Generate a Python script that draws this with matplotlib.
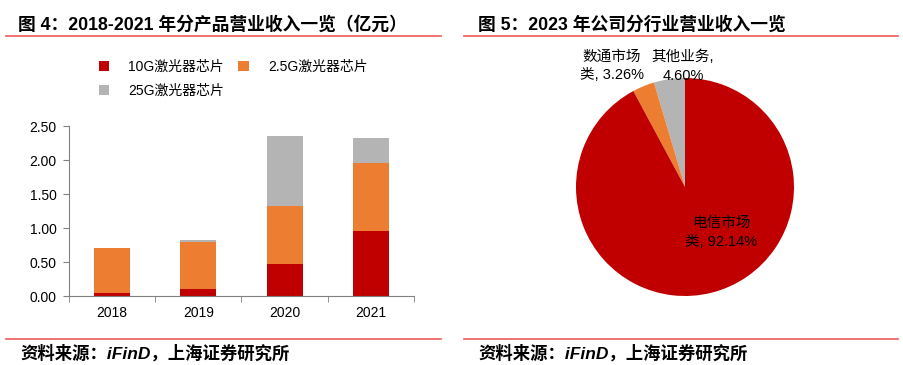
import matplotlib
matplotlib.use("Agg")
import matplotlib.pyplot as plt
import numpy as np

plt.rcParams["font.family"] = ["Liberation Sans", "Noto Sans CJK SC", "DejaVu Sans"]

years = ["2018", "2019", "2020", "2021"]
chip_10g = [0.04, 0.10, 0.47, 0.95]
chip_2_5g = [0.67, 0.69, 0.85, 1.00]
chip_25g = [0.00, 0.03, 1.03, 0.38]
series_names = ["10G激光器芯片", "2.5G激光器芯片", "25G激光器芯片"]
y_ticks = [0.0, 0.5, 1.0, 1.5, 2.0, 2.5]

pie_names = ["其他业务", "数通市场类", "电信市场类"]
pie_shares = [4.60, 3.26, 92.14]

RED = "#C00000"
ORANGE = "#ED7D31"
GRAY = "#B4B4B4"
LINE = "#F05A5A"

W, H = 904, 365
fig = plt.figure(figsize=(W / 100, H / 100), dpi=100)


def px(x0, y0, x1, y1):
    # pixel box (top-left origin) -> figure fraction rect
    return [x0 / W, 1 - y1 / H, (x1 - x0) / W, (y1 - y0) / H]


# titles, rules and sources
fig.text(18 / W, 1 - 25 / H, "图 4：2018-2021 年分产品营业收入一览（亿元）",
         fontsize=12.8, fontweight="bold", va="center")
fig.text(478 / W, 1 - 25 / H, "图 5：2023 年公司分行业营业收入一览",
         fontsize=12.8, fontweight="bold", va="center")
for x0, x1 in [(6, 441), (464, 898)]:
    fig.add_artist(plt.Line2D([x0 / W, x1 / W], [1 - 36 / H] * 2, color=LINE, lw=1.2))
    fig.add_artist(plt.Line2D([x0 / W, x1 / W], [1 - 339 / H] * 2, color=LINE, lw=1.2))
for x0 in (20, 478):
    fig.text(x0 / W, 1 - 353 / H, "资料来源：iFinD，上海证券研究所", fontsize=12.5,
             fontweight="bold", fontstyle="italic", va="center")

# stacked bars
ax = fig.add_axes(px(69, 126, 414, 296))
x = np.arange(len(years))
b1 = ax.bar(x, chip_10g, width=0.42, color=RED, label=series_names[0])
b2 = ax.bar(x, chip_2_5g, width=0.42, bottom=chip_10g, color=ORANGE, label=series_names[1])
b3 = ax.bar(x, chip_25g, width=0.42, bottom=np.add(chip_10g, chip_2_5g), color=GRAY,
            label=series_names[2])
ax.set_xlim(-0.5, len(years) - 0.5)
ax.set_ylim(0, 2.5)
ax.set_yticks(y_ticks)
ax.set_yticklabels([f"{v:.2f}" for v in y_ticks], fontsize=10)
ax.set_xticks(x)
ax.set_xticklabels(years, fontsize=10)
ax.set_xticks(np.arange(len(years) + 1) - 0.5, minor=True)
ax.tick_params(axis="x", which="major", length=0, pad=7)
ax.tick_params(axis="x", which="minor", length=4, direction="out", color="#808080")
ax.tick_params(axis="y", length=4, direction="out", color="#808080", pad=5)
for s in ["top", "right"]:
    ax.spines[s].set_visible(False)
for s in ["left", "bottom"]:
    ax.spines[s].set_color("#808080")

# column-wise fill -> row order: 10G, 2.5G / 25G
fig.legend(handles=[b1, b3, b2], loc="upper left", bbox_to_anchor=(93 / W, 1 - 54 / H),
           ncol=2, frameon=False, fontsize=10, handlelength=0.75, handleheight=0.75,
           handletextpad=1.4, columnspacing=1.0, labelspacing=0.75, borderaxespad=0)

# pie
pax = fig.add_axes(px(576, 78, 794, 296))
pax.pie(pie_shares, colors=[GRAY, ORANGE, RED], startangle=90, counterclock=True,
        wedgeprops=dict(linewidth=0))
pax.set_xlim(-1, 1)
pax.set_ylim(-1, 1)
pax.set_aspect("equal")
lab_font = dict(fontsize=10.5, ha="center", va="center", linespacing=1.45)
pax.text(-0.67, 1.11, "数通市场\n类, " + f"{pie_shares[1]:.2f}%", **lab_font)
pax.text(-0.02, 1.11, "其他业务,\n" + f"{pie_shares[0]:.2f}%", **lab_font)
pax.text(0.33, -0.42, "电信市场\n类, " + f"{pie_shares[2]:.2f}%", **lab_font)

fig.savefig("out.png", dpi=100)
